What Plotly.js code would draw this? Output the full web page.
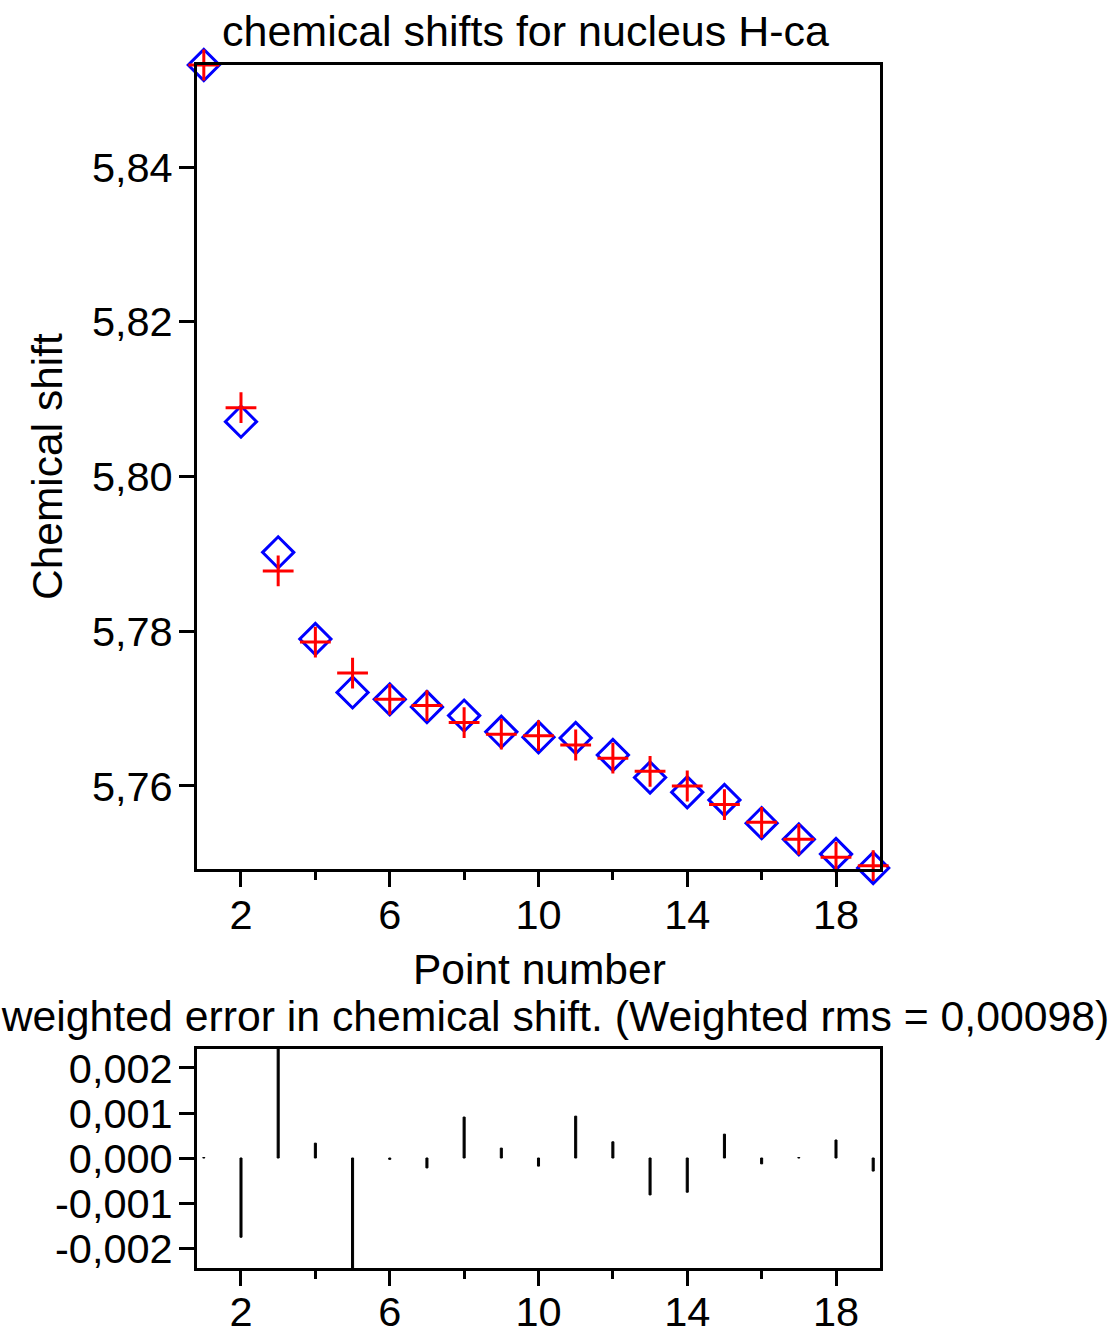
<!DOCTYPE html>
<html>
<head>
<meta charset="utf-8">
<script src="https://cdn.plot.ly/plotly-3.0.1.min.js"></script>
<style>html,body{margin:0;padding:0;background:#fff;}#chart{width:1115px;height:1334px;}</style>
</head>
<body>
<div id="chart"></div>
<script>
// ---- data ----
const pointNumber = [1,2,3,4,5,6,7,8,9,10,11,12,13,14,15,16,17,18,19];
const calcShift = [5.8532, 5.8071, 5.7902, 5.7790, 5.7721, 5.7712, 5.7702, 5.7691, 5.7670, 5.7663, 5.7662, 5.7640, 5.7611, 5.7592, 5.7582, 5.7552, 5.7531, 5.7512, 5.7494];
const expShift  = [5.8532, 5.8089, 5.7878, 5.7786, 5.7746, 5.7712, 5.7704, 5.7682, 5.7667, 5.7665, 5.7653, 5.7636, 5.7619, 5.7600, 5.7576, 5.7553, 5.7531, 5.7508, 5.7497];
const errorShift = [0.00001, -0.00176, 0.0025, 0.00033, -0.0025, -0.00003, -0.00022, 0.00091, 0.00022, -0.00018, 0.00093, 0.00036, -0.00082, -0.00076, 0.00053, -0.00013, 0.00001, 0.0004, -0.00029];
const topTickVals = [5.76, 5.78, 5.80, 5.82, 5.84];
const topTickText = ["5,76", "5,78", "5,80", "5,82", "5,84"];
const errTickVals = [-0.002, -0.001, 0, 0.001, 0.002];
const errTickText = ["-0,002", "-0,001", "0,000", "0,001", "0,002"];
const mainTitle = "chemical shifts for nucleus H-ca";
const errTitle = "Unweighted error in chemical shift. (Weighted rms = 0,00098)";
const xTitle = "Point number";
const yTitle = "Chemical shift";

const W = 1115, H = 1334;
const px = v => v / W;
const py = v => 1 - v / H;
const FAM = "Liberation Sans, Arial, sans-serif";
const TICKFONT = {family: FAM, size: 41.5, color: "#000"};
const TITLEFONT = {family: FAM, size: 43, color: "#000"};
const ERRTITLEFONT = {family: FAM, size: 42.75, color: "#000"};
const AXTFONT = {family: FAM, size: 42.5, color: "#000"};

const traces = [
  {x: pointNumber, y: calcShift, type: "scatter", mode: "markers", xaxis: "x", yaxis: "y",
   cliponaxis: false,
   marker: {symbol: "diamond-open", size: 24, color: "#0000ff", line: {width: 3, color: "#0000ff"}}},
  {x: pointNumber, y: expShift, type: "scatter", mode: "markers", xaxis: "x", yaxis: "y",
   cliponaxis: false,
   marker: {symbol: "cross-thin-open", size: 22, color: "#ff0000", line: {width: 3, color: "#ff0000"}}},
  {x: pointNumber, y: errorShift, type: "bar", xaxis: "x2", yaxis: "y2", width: 0.055,
   marker: {color: "#000", line: {color: "#000", width: 1}}}
];

const xCommon = {
  range: [0.817, 19.183], showline: true, linecolor: "#000", linewidth: 3, mirror: true,
  ticks: "outside", ticklen: 15, tickwidth: 3, tickcolor: "#000",
  tickmode: "linear", tick0: 2, dtick: 4, ticklabelstandoff: -8,
  minor: {ticks: "outside", ticklen: 8, tickwidth: 3, tickcolor: "#000", tick0: 0, dtick: 2},
  showgrid: false, zeroline: false, tickfont: TICKFONT, fixedrange: true
};

const yCommon = {
  showline: true, linecolor: "#000", linewidth: 3, mirror: true,
  ticks: "outside", ticklen: 15, tickwidth: 3, tickcolor: "#000",
  tickmode: "array", ticklabelstandoff: -2,
  showgrid: false, zeroline: false, tickfont: TICKFONT, fixedrange: true
};

const layout = {
  width: W, height: H,
  margin: {l: 0, r: 0, t: 0, b: 0},
  paper_bgcolor: "#fff", plot_bgcolor: "#fff",
  showlegend: false, bargap: 0,
  font: TICKFONT,
  xaxis: Object.assign({}, xCommon, {domain: [px(197), px(880)], anchor: "y"}),
  yaxis: Object.assign({}, yCommon, {domain: [py(869), py(65)], anchor: "x", range: [5.74927, 5.8532],
    tickvals: topTickVals, ticktext: topTickText}),
  xaxis2: Object.assign({}, xCommon, {domain: [px(197), px(880)], anchor: "y2", ticklabelstandoff: -10}),
  yaxis2: Object.assign({}, yCommon, {domain: [py(1268), py(1049)], anchor: "x2", range: [-0.002444, 0.002422],
    tickvals: errTickVals, ticktext: errTickText}),
  annotations: [
    {text: mainTitle, xref: "paper", yref: "paper", x: px(525), y: py(31),
     xanchor: "center", yanchor: "middle", showarrow: false, font: TITLEFONT},
    {text: xTitle, xref: "paper", yref: "paper", x: px(539), y: py(969),
     xanchor: "center", yanchor: "middle", showarrow: false, font: AXTFONT},
    {text: yTitle, xref: "paper", yref: "paper", x: px(47), y: py(467), textangle: -90,
     xanchor: "center", yanchor: "middle", showarrow: false, font: AXTFONT},
    {text: errTitle, xref: "paper", yref: "paper", x: px(1111), y: py(1016),
     xanchor: "right", yanchor: "middle", showarrow: false, font: ERRTITLEFONT}
  ]
};

Plotly.newPlot("chart", traces, layout, {displayModeBar: false, staticPlot: true});
</script>
</body>
</html>
